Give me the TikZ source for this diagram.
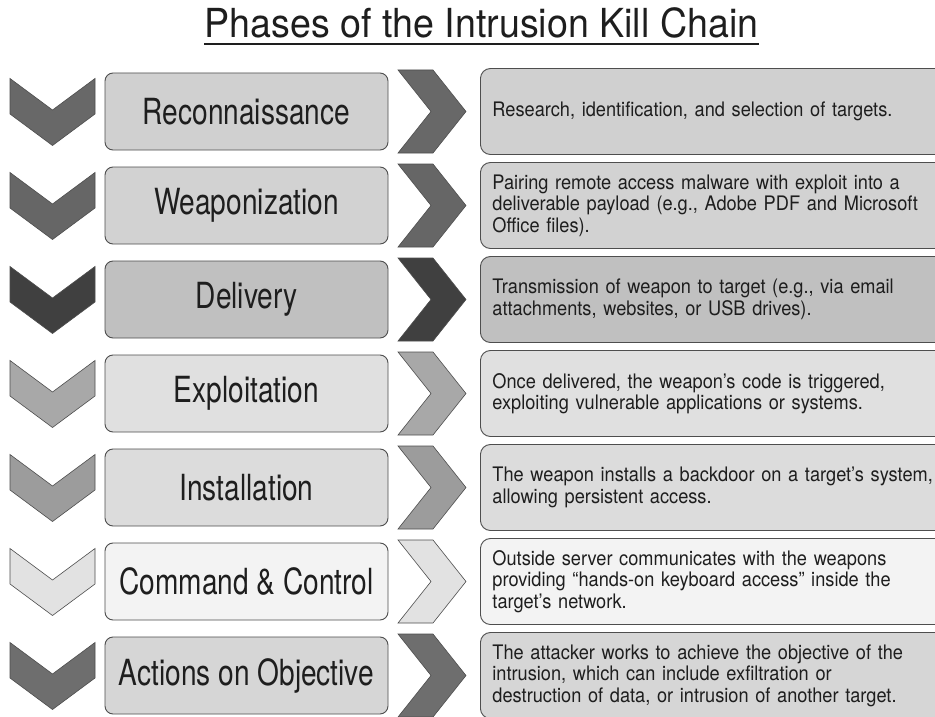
\documentclass[tikz,border=0pt]{standalone}
\usepackage{fontspec}
\setmainfont{TeX Gyre Heros}[FakeStretch=0.78]
\newfontfamily\headfont{TeX Gyre Heros}[FakeStretch=0.94]
\newfontfamily\bodyfont{TeX Gyre Heros}[FakeStretch=0.91]
\usepackage{tikz}
\usetikzlibrary{positioning}
\usepackage{xcolor}
\definecolor{ink}{RGB}{30,30,30}
\definecolor{edge}{RGB}{78,78,78}
% chevron and box shades, one pair per phase
\definecolor{chevRec}{RGB}{104,104,104}
\definecolor{boxRec}{RGB}{208,208,208}
\definecolor{chevWeap}{RGB}{102,102,102}
\definecolor{boxWeap}{RGB}{210,210,210}
\definecolor{chevDel}{RGB}{64,64,64}
\definecolor{boxDel}{RGB}{192,192,192}
\definecolor{chevExp}{RGB}{168,168,168}
\definecolor{boxExp}{RGB}{224,224,224}
\definecolor{chevInst}{RGB}{156,156,156}
\definecolor{boxInst}{RGB}{220,220,220}
\definecolor{chevCC}{RGB}{226,226,226}
\definecolor{boxCC}{RGB}{243,243,243}
\definecolor{chevAct}{RGB}{110,110,110}
\definecolor{boxAct}{RGB}{214,214,214}
\tikzset{
  heading/.style={inner sep=0pt,font=\headfont\fontsize{40}{44}\selectfont,text=ink},
  phase/.style={draw=edge,line width=0.9pt,rounded corners=8pt,minimum width=283pt,minimum height=77pt,inner sep=0pt,align=center,font=\fontsize{36}{40}\selectfont,text=ink},
  detail/.style={draw=edge,line width=0.9pt,rounded corners=10pt,text width=520pt,inner xsep=12pt,inner ysep=0pt,minimum height=86pt,align=left,font=\bodyfont\fontsize{20}{21.5}\selectfont,text=ink},
  chev/.style={draw=edge,line width=0.6pt,line join=miter}
}
\begin{document}
\begin{tikzpicture}[x=1pt,y=-1pt]
\useasboundingbox (0,0) rectangle (935,717);
\clip (0,0) rectangle (935,717);
\fill[white] (0,0) rectangle (935,717);
\node[heading,anchor=base] (title) at (481.5,38) {Phases of the Intrusion Kill Chain};
\draw[ink,line width=2pt] ([yshift=-6.5pt]title.base west) -- ([yshift=-6.5pt]title.base east);
\foreach \lbl/\shade/\fillc/\txt [count=\i from 0] in {
  Reconnaissance/chevRec/boxRec/{Research, identification, and selection of targets.},
  Weaponization/chevWeap/boxWeap/{Pairing remote access malware with exploit into a\\deliverable payload (e.g., Adobe PDF and Microsoft\\Office files).},
  Delivery/chevDel/boxDel/{Transmission of weapon to target (e.g., via email\\attachments, websites, or USB drives).},
  Exploitation/chevExp/boxExp/{Once delivered, the weapon’s code is triggered,\\exploiting vulnerable applications or systems.},
  Installation/chevInst/boxInst/{The weapon installs a backdoor on a target’s system,\\allowing persistent access.},
  {Command \& Control}/chevCC/boxCC/{Outside server communicates with the weapons\\providing “hands-on keyboard access” inside the\\target’s network.},
  {Actions on Objective}/chevAct/boxAct/{The attacker works to achieve the objective of the\\intrusion, which can include exfiltration or\\destruction of data, or intrusion of another target.}
}{
  \pgfmathsetmacro\cy{111.5+94*\i}
  % down chevron, phase box, right chevron, description
  \draw[chev,fill=\shade] (10,\cy-33) -- (52.5,\cy-1.5) -- (95,\cy-33) -- (95,\cy+2.5)
    -- (52.5,\cy+34) -- (10,\cy+2.5) -- cycle;
  \node[phase,fill=\fillc] (ph\i) at (246.5,\cy) {\lbl};
  \draw[chev,fill=\shade] (398,\cy-41.5) -- (433,\cy-41.5) -- (466,\cy) -- (433,\cy+41.5)
    -- (398,\cy+41.5) -- (431,\cy) -- cycle;
  \node[detail,fill=\fillc,anchor=west] (ds\i) at (480,\cy) {\txt};
}
\end{tikzpicture}
\end{document}
